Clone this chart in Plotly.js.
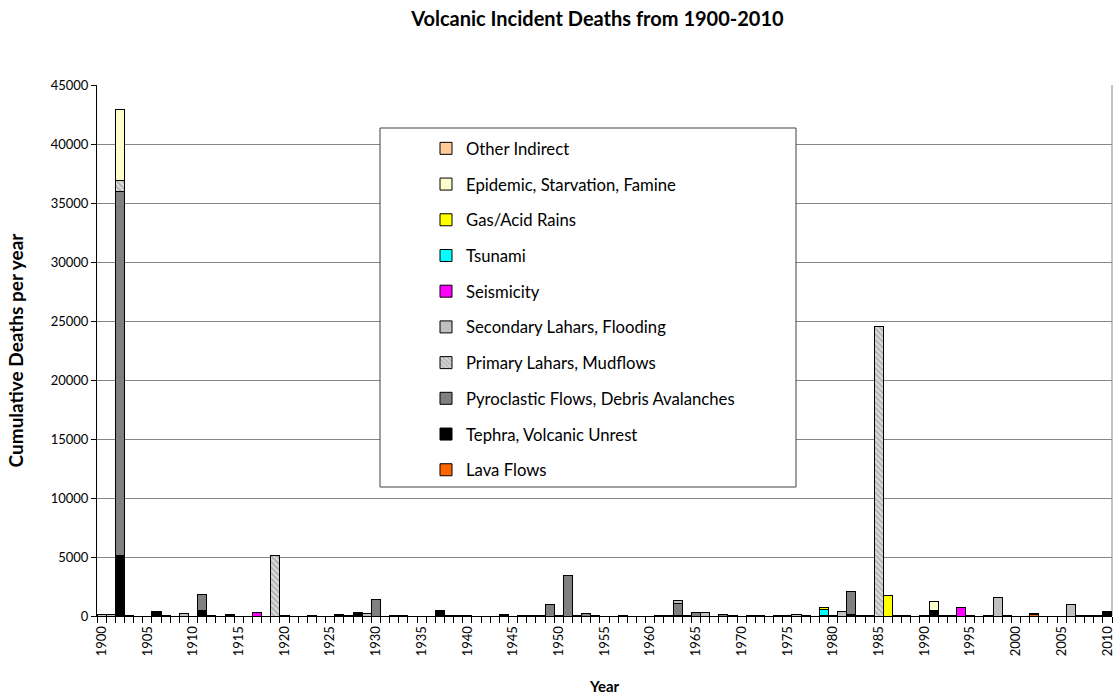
<!DOCTYPE html>
<html>
<head>
<meta charset="utf-8">
<script src="https://cdn.plot.ly/plotly-3.0.1.min.js"></script>
<style>
  html, body { margin: 0; padding: 0; background: #ffffff; }
  #chart { width: 1116px; height: 695px; }
</style>
</head>
<body>
<div id="chart"></div>
<script>
// Deaths per year by cause, 1900-2010 (years with no deaths are left out).
const lavaYears = [2002];
const lavaDeaths = [100];

const tephraYears = [1902, 1906, 1911, 1914, 1926, 1928, 1937, 1944, 1963, 1964, 1971, 1979, 1980, 1982, 1984, 1990, 1991, 1993, 1995, 1997, 2002, 2010];
const tephraDeaths = [5150, 350, 480, 150, 140, 300, 507, 130, 50, 80, 80, 30, 57, 100, 60, 80, 500, 80, 80, 60, 80, 380];

const pyroYears = [1902, 1911, 1930, 1949, 1951, 1953, 1963, 1965, 1968, 1982];
const pyroDeaths = [30850, 1335, 1369, 960, 3440, 200, 1000, 300, 90, 1950];

const primaryLaharYears = [1902, 1919, 1985];
const primaryLaharDeaths = [900, 5110, 24500];

const secondaryLaharYears = [1900, 1901, 1903, 1907, 1909, 1912, 1920, 1923, 1927, 1929, 1932, 1933, 1938, 1939, 1940, 1946, 1947, 1948, 1950, 1952, 1954, 1957, 1961, 1962, 1963, 1966, 1969, 1972, 1974, 1975, 1976, 1977, 1981, 1983, 1987, 1988, 1992, 1998, 1999, 2006, 2007, 2008, 2009];
const secondaryLaharDeaths = [100, 100, 40, 40, 200, 50, 50, 40, 40, 180, 40, 40, 30, 30, 30, 30, 50, 80, 50, 50, 40, 30, 30, 30, 250, 280, 30, 30, 40, 40, 140, 60, 370, 30, 30, 30, 30, 1560, 30, 980, 30, 30, 30];

const seismicityYears = [1917, 1994];
const seismicityDeaths = [300, 750];

const tsunamiYears = [1979];
const tsunamiDeaths = [540];

const gasYears = [1979, 1986];
const gasDeaths = [149, 1746];

const epidemicYears = [1902, 1979, 1991];
const epidemicDeaths = [6000, 40, 740];

const otherYears = [1958];
const otherDeaths = [0];

// Stacked from the bottom up, in this order; the legend lists them top-down.
const series = [
  { name: 'Lava Flows', x: lavaYears, y: lavaDeaths, color: '#FF6600' },
  { name: 'Tephra, Volcanic Unrest', x: tephraYears, y: tephraDeaths, color: '#000000' },
  { name: 'Pyroclastic Flows, Debris Avalanches', x: pyroYears, y: pyroDeaths, color: '#808080' },
  { name: 'Primary Lahars, Mudflows', x: primaryLaharYears, y: primaryLaharDeaths, color: '#C0C0C0', hatch: true },
  { name: 'Secondary Lahars, Flooding', x: secondaryLaharYears, y: secondaryLaharDeaths, color: '#C0C0C0' },
  { name: 'Seismicity', x: seismicityYears, y: seismicityDeaths, color: '#FF00FF' },
  { name: 'Tsunami', x: tsunamiYears, y: tsunamiDeaths, color: '#00FFFF' },
  { name: 'Gas/Acid Rains', x: gasYears, y: gasDeaths, color: '#FFFF00' },
  { name: 'Epidemic, Starvation, Famine', x: epidemicYears, y: epidemicDeaths, color: '#FFFFCC' },
  { name: 'Other Indirect', x: otherYears, y: otherDeaths, color: '#FFCC99' }
];

const FONT = 'Lato, "Open Sans", "DejaVu Sans", sans-serif';

const traces = series.map((s, i) => {
  const marker = { color: s.color, line: { color: '#000000', width: 1 } };
  if (s.hatch) {
    marker.pattern = { shape: '\\', bgcolor: '#B4B4B4', fgcolor: '#E2E2E2', size: 4, solidity: 0.45 };
  }
  return {
    type: 'bar',
    name: s.name,
    x: s.x,
    y: s.y,
    marker: marker,
    legendgroup: s.name,
    legendrank: 1000 - i,
    hoverinfo: 'skip'
  };
});

// Plot area edges in pixels, used to place the legend frame.
const W = 1116, H = 695;
const M = { l: 97, r: 4, t: 85, b: 79 };
const pw = W - M.l - M.r, ph = H - M.t - M.b;
const px = v => (v - M.l) / pw;
const py = v => (H - M.b - v) / ph;

const layout = {
  width: W,
  height: H,
  margin: M,
  paper_bgcolor: '#ffffff',
  plot_bgcolor: '#ffffff',
  font: { family: FONT, size: 13, color: '#000000' },
  barmode: 'stack',
  bargap: 0,
  showlegend: true,
  title: {
    text: '<b>Volcanic Incident Deaths from 1900-2010</b>',
    font: { family: FONT, size: 20, color: '#000000' },
    xref: 'paper', x: 0.493, xanchor: 'center',
    yref: 'container', y: 1 - 19 / H, yanchor: 'middle'
  },
  xaxis: {
    type: 'linear',
    range: [1899.5, 2010.5],
    tick0: 1900,
    dtick: 5,
    ticks: '',
    tickangle: -90,
    tickfont: { family: FONT, size: 13, color: '#000000' },
    minor: { ticks: 'outside', tick0: 1899.5, dtick: 1, ticklen: 6, tickcolor: '#000000', tickwidth: 1, showgrid: false },
    showline: true, linecolor: '#000000', linewidth: 1,
    showgrid: false, zeroline: false,
    ticklabelstandoff: 4,
    title: { text: '<b>Year</b>', font: { family: FONT, size: 15, color: '#000000' }, standoff: 29 },
    fixedrange: true
  },
  yaxis: {
    range: [0, 45000],
    tick0: 0,
    dtick: 5000,
    tickformat: 'd',
    ticks: 'outside', ticklen: 5, tickcolor: '#000000', tickwidth: 1,
    tickfont: { family: FONT, size: 13, color: '#000000' },
    showline: true, linecolor: '#000000', linewidth: 1,
    showgrid: true, gridcolor: '#868686', gridwidth: 1,
    zeroline: false,
    title: { text: '<b>Cumulative Deaths per year</b>', font: { family: FONT, size: 19, color: '#000000' }, standoff: 22 },
    fixedrange: true
  },
  legend: {
    traceorder: 'grouped',
    tracegroupgap: 11,
    x: px(426), xanchor: 'left',
    y: py(131), yanchor: 'top',
    bgcolor: 'rgba(0,0,0,0)',
    borderwidth: 0,
    font: { family: FONT, size: 16.7, color: '#000000' },
    itemclick: false, itemdoubleclick: false
  },
  shapes: [
    // legend frame, covering the gridlines behind it
    {
      type: 'rect', xref: 'paper', yref: 'paper', layer: 'above',
      x0: px(380), x1: px(796), y0: py(487), y1: py(128),
      fillcolor: '#ffffff', line: { color: '#404040', width: 1 }
    },
    // right edge of the plot area
    {
      type: 'line', xref: 'paper', yref: 'paper', layer: 'below',
      x0: 1, x1: 1, y0: 0, y1: 1,
      line: { color: '#868686', width: 1 }
    }
  ]
};

Plotly.newPlot('chart', traces, layout, { displayModeBar: false, staticPlot: true });
</script>
</body>
</html>
